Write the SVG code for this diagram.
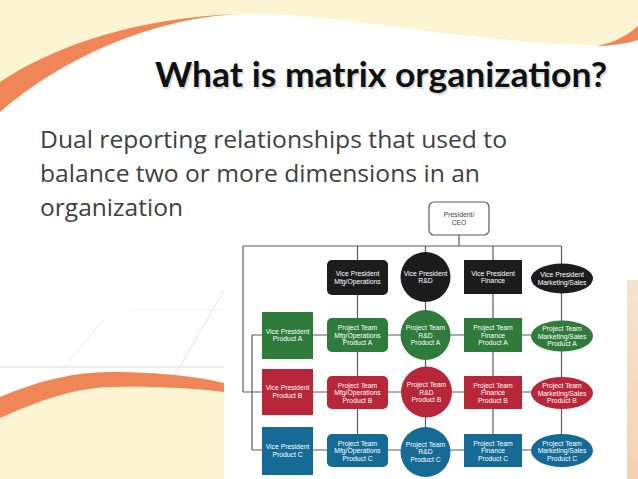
<svg xmlns="http://www.w3.org/2000/svg" width="638" height="479" viewBox="0 0 638 479">
<defs>
<style>
.bg{fill:#ffffff}
.cream{fill:#fdf5d2}
.orange{fill:#f08657}
.grid{stroke:#dcdcdc;stroke-width:1;fill:none}
.title{font-family:Lato,"Open Sans","Liberation Sans",sans-serif;font-weight:700;font-size:34px;fill:#111}
.shadow{fill:#9a9a9a;fill-opacity:0.4}
.body{font-family:"Open Sans","Liberation Sans",sans-serif;font-size:23.5px;fill:#404040}
.conn{stroke:#5a5a5a;stroke-width:1.2;fill:none}
.t{font-family:"Liberation Sans",Arial,sans-serif;font-size:6.8px;fill:#ffffff;text-anchor:middle}
.tc{font-family:"Liberation Sans",Arial,sans-serif;font-size:6.8px;fill:#444;text-anchor:middle}
.k{fill:#1c1c1c}
.g{fill:#2e7b3b}
.r{fill:#b72639}
.b{fill:#156b96}
</style>
<linearGradient id="peach" x1="0" y1="0" x2="0" y2="1">
<stop offset="0" stop-color="#f7e4d0"/>
<stop offset="1" stop-color="#f3d2b4"/>
</linearGradient>
</defs>

<!-- background -->
<rect class="bg" x="0" y="0" width="638" height="479"/>
<path class="cream" d="M0,0 H638 V40 C620,44 600,47 560,44 C420,35 330,12 240,14 C150,18 60,60 0,112 Z"/>
<path class="orange" d="M0,82 C55,45 140,17 240,14 C150,18 60,60 0,112 Z"/>
<path class="orange" d="M596,46 C614,43 628,35 638,26 V40 C624,44 610,46 596,46 Z"/>
<line class="grid" x1="0" y1="367" x2="224" y2="367"/>
<line class="grid" x1="130" y1="310" x2="224" y2="310" stroke-opacity="0.5"/>
<line class="grid" x1="60" y1="372" x2="103" y2="320" stroke-opacity="0.6"/>
<line class="grid" x1="175" y1="375" x2="224" y2="290" stroke-opacity="0.8"/>
<path class="orange" d="M0,397 C40,380 75,372 110,372 C160,372 200,377 224,383 V479 H0 Z"/>
<path class="cream" d="M0,418 C40,400 75,388 110,387 C160,386 200,389 224,392 V479 H0 Z"/>
<rect x="627" y="280" width="11" height="199" fill="url(#peach)"/>
<rect class="bg" x="224" y="232" width="403" height="247"/>

<!-- text -->
<text class="title shadow" x="156.5" y="88.5" textLength="452" lengthAdjust="spacingAndGlyphs">What is matrix organization?</text>
<text class="title" x="155" y="87" textLength="452" lengthAdjust="spacingAndGlyphs">What is matrix organization?</text>
<text class="body" x="40" y="148" textLength="467" lengthAdjust="spacingAndGlyphs">Dual reporting relationships that used to</text>
<text class="body" x="40" y="182" textLength="440" lengthAdjust="spacingAndGlyphs">balance two or more dimensions in an</text>
<text class="body" x="40" y="216" textLength="143" lengthAdjust="spacingAndGlyphs">organization</text>

<!-- connectors -->
<g id="connectors" class="conn">
<line x1="459" y1="235" x2="459" y2="246"/>
<line x1="243" y1="246" x2="561.5" y2="246"/>
<line x1="243" y1="246" x2="243" y2="392"/>
<line x1="252" y1="335" x2="252" y2="450"/>
<line x1="357.5" y1="246" x2="357.5" y2="450"/>
<line x1="425.5" y1="246" x2="425.5" y2="452"/>
<line x1="493" y1="246" x2="493" y2="450"/>
<line x1="561.5" y1="246" x2="561.5" y2="450"/>
<line x1="252" y1="335" x2="561.5" y2="335"/>
<line x1="243" y1="392" x2="561.5" y2="392"/>
<line x1="252" y1="450" x2="561.5" y2="450"/>
</g>

<!-- CEO -->
<g id="ceo">
<rect x="429" y="202" width="60" height="33" rx="5" fill="#fff" stroke="#5a5a5a" stroke-width="1.2"/>
<text class="tc" x="459" y="216.5">President/</text>
<text class="tc" x="459" y="225">CEO</text>
</g>

<!-- VP functional -->
<g id="vp-mfg"><rect class="k" x="327" y="260" width="61" height="35" rx="5"/>
<text class="t" x="357.5" y="276.3">Vice President</text><text class="t" x="357.5" y="283.7">Mfg/Operations</text></g>
<g id="vp-rd"><circle class="k" cx="425.5" cy="277" r="25"/>
<text class="t" x="425.5" y="275.8">Vice President</text><text class="t" x="425.5" y="283.2">R&amp;D</text></g>
<g id="vp-fin"><rect class="k" x="464" y="260" width="58" height="34"/>
<text class="t" x="493" y="275.8">Vice President</text><text class="t" x="493" y="283.2">Finance</text></g>
<g id="vp-mkt"><ellipse class="k" cx="562" cy="278.5" rx="31" ry="15"/>
<text class="t" x="562" y="277.3">Vice President</text><text class="t" x="562" y="284.7">Marketing/Sales</text></g>

<!-- Row A -->
<g id="vp-a"><rect class="g" x="262" y="312" width="51" height="47"/>
<text class="t" x="287.5" y="333.8">Vice President</text><text class="t" x="287.5" y="341.2">Product A</text></g>
<g id="pt-mfg-a"><rect class="g" x="327" y="318" width="61" height="34" rx="5"/>
<text class="t" x="357.5" y="330">Project Team</text><text class="t" x="357.5" y="337.5">Mfg/Operations</text><text class="t" x="357.5" y="345">Product A</text></g>
<g id="pt-rd-a"><circle class="g" cx="425.5" cy="335" r="25"/>
<text class="t" x="425.5" y="330">Project Team</text><text class="t" x="425.5" y="337.5">R&amp;D</text><text class="t" x="425.5" y="345">Product A</text></g>
<g id="pt-fin-a"><rect class="g" x="464" y="318" width="58" height="34"/>
<text class="t" x="493" y="330">Project Team</text><text class="t" x="493" y="337.5">Finance</text><text class="t" x="493" y="345">Product A</text></g>
<g id="pt-mkt-a"><ellipse class="g" cx="562" cy="336" rx="31" ry="15.5"/>
<text class="t" x="562" y="331">Project Team</text><text class="t" x="562" y="338.5">Marketing/Sales</text><text class="t" x="562" y="346">Product A</text></g>

<!-- Row B -->
<g id="vp-b"><rect class="r" x="262" y="369" width="51" height="46"/>
<text class="t" x="287.5" y="390.3">Vice President</text><text class="t" x="287.5" y="397.7">Product B</text></g>
<g id="pt-mfg-b"><rect class="r" x="327" y="376" width="61" height="33" rx="5"/>
<text class="t" x="357.5" y="387.5">Project Team</text><text class="t" x="357.5" y="395">Mfg/Operations</text><text class="t" x="357.5" y="402.5">Product B</text></g>
<g id="pt-rd-b"><circle class="r" cx="426.5" cy="392" r="25.5"/>
<text class="t" x="426.5" y="387">Project Team</text><text class="t" x="426.5" y="394.5">R&amp;D</text><text class="t" x="426.5" y="402">Product B</text></g>
<g id="pt-fin-b"><rect class="r" x="464" y="376" width="58" height="33"/>
<text class="t" x="493" y="387.5">Project Team</text><text class="t" x="493" y="395">Finance</text><text class="t" x="493" y="402.5">Product B</text></g>
<g id="pt-mkt-b"><ellipse class="r" cx="562" cy="393" rx="31" ry="16"/>
<text class="t" x="562" y="388">Project Team</text><text class="t" x="562" y="395.5">Marketing/Sales</text><text class="t" x="562" y="403">Product B</text></g>

<!-- Row C -->
<g id="vp-c"><rect class="b" x="262" y="427" width="51" height="48"/>
<text class="t" x="287.5" y="449.3">Vice President</text><text class="t" x="287.5" y="456.7">Product C</text></g>
<g id="pt-mfg-c"><rect class="b" x="327" y="434" width="61" height="33" rx="5"/>
<text class="t" x="357.5" y="445.5">Project Team</text><text class="t" x="357.5" y="453">Mfg/Operations</text><text class="t" x="357.5" y="460.5">Product C</text></g>
<g id="pt-rd-c"><circle class="b" cx="425.5" cy="452" r="25"/>
<text class="t" x="425.5" y="446.5">Project Team</text><text class="t" x="425.5" y="454">R&amp;D</text><text class="t" x="425.5" y="461.5">Product C</text></g>
<g id="pt-fin-c"><rect class="b" x="464" y="434" width="58" height="33"/>
<text class="t" x="493" y="445.5">Project Team</text><text class="t" x="493" y="453">Finance</text><text class="t" x="493" y="460.5">Product C</text></g>
<g id="pt-mkt-c"><ellipse class="b" cx="562" cy="450.5" rx="31" ry="16.5"/>
<text class="t" x="562" y="445.5">Project Team</text><text class="t" x="562" y="453">Marketing/Sales</text><text class="t" x="562" y="460.5">Product C</text></g>
</svg>
